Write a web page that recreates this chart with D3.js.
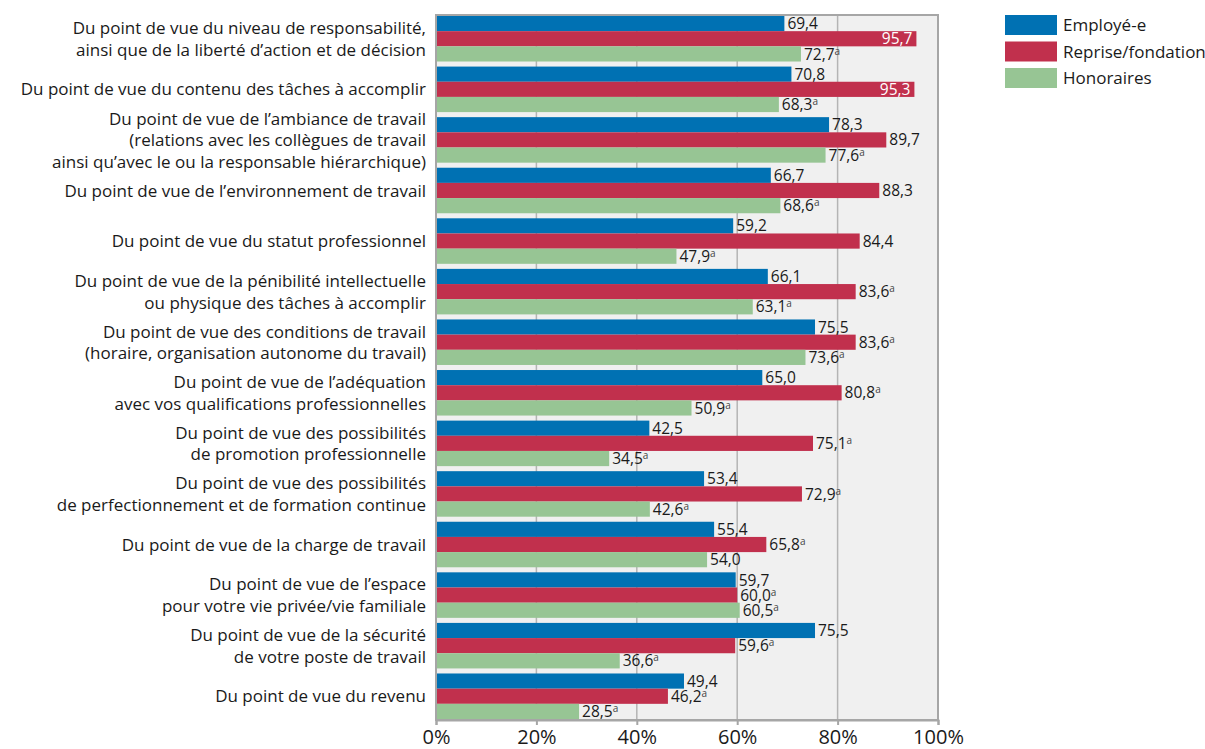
<!DOCTYPE html>
<html>
<head>
<meta charset="utf-8">
<script src="https://cdn.jsdelivr.net/npm/d3@7"></script>
<style>
  body { margin: 0; background: #fff; }
  text { font-family: "Open Sans", sans-serif; fill: #1a1a1a; }
</style>
</head>
<body>
<div id="chart"></div>
<script>
// categories (line breaks as in the original)
var categories = [
  "Du point de vue du niveau de responsabilité,\nainsi que de la liberté d’action et de décision",
  "Du point de vue du contenu des tâches à accomplir",
  "Du point de vue de l’ambiance de travail\n(relations avec les collègues de travail\nainsi qu’avec le ou la responsable hiérarchique)",
  "Du point de vue de l’environnement de travail",
  "Du point de vue du statut professionnel",
  "Du point de vue de la pénibilité intellectuelle\nou physique des tâches à accomplir",
  "Du point de vue des conditions de travail\n(horaire, organisation autonome du travail)",
  "Du point de vue de l’adéquation\navec vos qualifications professionnelles",
  "Du point de vue des possibilités\nde promotion professionnelle",
  "Du point de vue des possibilités\nde perfectionnement et de formation continue",
  "Du point de vue de la charge de travail",
  "Du point de vue de l’espace\npour votre vie privée/vie familiale",
  "Du point de vue de la sécurité\nde votre poste de travail",
  "Du point de vue du revenu"
]
var seriesNames = ["Employé-e", "Reprise/fondation", "Honoraires"]
var colors = ["#0071b3", "#c1304d", "#97c594"]

var employe = [69.4, 70.8, 78.3, 66.7, 59.2, 66.1, 75.5, 65.0, 42.5, 53.4, 55.4, 59.7, 75.5, 49.4]
var reprise = [95.7, 95.3, 89.7, 88.3, 84.4, 83.6, 83.6, 80.8, 75.1, 72.9, 65.8, 60.0, 59.6, 46.2]
var honoraires = [72.7, 68.3, 77.6, 68.6, 47.9, 63.1, 73.6, 50.9, 34.5, 42.6, 54.0, 60.5, 36.6, 28.5]

// superscript "a" markers
var employeA = [0,0,0,0,0,0,0,0,0,0,0,0,0,0]
var repriseA = [0,0,0,0,0,1,1,1,1,1,1,1,1,1]
var honorairesA = [1,1,1,1,1,1,1,1,1,1,0,1,1,1]

var xTicks = [0, 20, 40, 60, 80, 100]

var width = 1205, height = 749
var svg = d3.select("#chart").append("svg")
  .attr("width", width)
  .attr("height", height)

var plot = { left: 436, right: 938, top: 15, bottom: 720 }

var x = d3.scaleLinear().domain([0, 100]).range([plot.left, plot.right])
var y = d3.scaleBand().domain(d3.range(categories.length))
  .range([plot.top + 1, plot.bottom - 1])
  .paddingInner(0.1).paddingOuter(0)
var ySub = d3.scaleBand().domain([0, 1, 2]).range([0, y.bandwidth()])

// background
svg.append("rect")
  .attr("x", plot.left).attr("y", plot.top)
  .attr("width", plot.right - plot.left).attr("height", plot.bottom - plot.top)
  .attr("fill", "#f0f0f0")

// grid
svg.append("g").selectAll("line")
  .data(xTicks.slice(1, -1)).enter().append("line")
  .attr("x1", function(d){ return x(d) }).attr("x2", function(d){ return x(d) })
  .attr("y1", plot.top).attr("y2", plot.bottom)
  .attr("stroke", "#b4b4b4").attr("stroke-width", 1.5)

var rows = categories.map(function(c, i){
  return {
    i: i,
    vals: [
      { s: 0, v: employe[i], a: employeA[i] },
      { s: 1, v: reprise[i], a: repriseA[i] },
      { s: 2, v: honoraires[i], a: honorairesA[i] }
    ]
  }
})

var groups = svg.append("g").selectAll("g")
  .data(rows).enter().append("g")
  .attr("transform", function(d){ return "translate(0," + y(d.i) + ")" })

groups.selectAll("rect")
  .data(function(d){ return d.vals }).enter().append("rect")
  .attr("x", x(0))
  .attr("y", function(d){ return ySub(d.s) })
  .attr("width", function(d){ return x(d.v) - x(0) })
  .attr("height", ySub.bandwidth())
  .attr("fill", function(d){ return colors[d.s] })

// value labels
var fmt = function(v){ return v.toFixed(1).replace(".", ",") }
groups.selectAll("text.val")
  .data(function(d){ return d.vals }).enter().append("text")
  .attr("class", "val")
  .attr("y", function(d){ return ySub(d.s) + ySub.bandwidth() / 2 })
  .attr("dy", "0.36em")
  .style("font-size", "15.5px")
  .each(function(d){
    var inside = d.v > 92
    var t = d3.select(this)
    t.attr("x", inside ? x(d.v) - 4 : x(d.v) + 3)
      .attr("text-anchor", inside ? "end" : "start")
    t.append("tspan").text(fmt(d.v)).style("fill", inside ? "#fff" : "#1a1a1a")
    if (d.a) {
      t.append("tspan").text("a")
        .attr("dy", "-0.5em")
        .style("font-size", "10px")
        .style("fill", "#444")
    }
  })

// border
svg.append("rect")
  .attr("x", plot.left).attr("y", plot.top)
  .attr("width", plot.right - plot.left).attr("height", plot.bottom - plot.top)
  .attr("fill", "none").attr("stroke", "#a6a6a6").attr("stroke-width", 2)

// x axis
var xAxis = d3.axisBottom(x).tickValues(xTicks)
  .tickFormat(function(d){ return d + "%" })
  .tickSize(5).tickPadding(5)
var ax = svg.append("g")
  .attr("transform", "translate(0," + plot.bottom + ")")
  .call(xAxis)
ax.select(".domain").attr("stroke", "#a6a6a6").attr("stroke-width", 2)
ax.selectAll(".tick line").attr("stroke", "#a6a6a6").attr("stroke-width", 2)
ax.selectAll(".tick text")
  .style("font-family", "'Open Sans', sans-serif")
  .style("font-size", "20px").style("fill", "#1a1a1a")

// category labels
var lineH = 21.5
svg.append("g").selectAll("text")
  .data(rows).enter().append("text")
  .attr("text-anchor", "end")
  .style("font-size", "17px")
  .each(function(d){
    var lines = categories[d.i].split("\n")
    var cy = y(d.i) + y.bandwidth() / 2
    var t = d3.select(this)
    lines.forEach(function(l, k){
      t.append("tspan")
        .attr("x", 426)
        .attr("y", cy + (k - (lines.length - 1) / 2) * lineH)
        .attr("dy", "0.36em")
        .text(l)
    })
  })

// legend
var legend = svg.append("g").selectAll("g")
  .data(seriesNames).enter().append("g")
  .attr("transform", function(d, i){ return "translate(1005," + (15 + i * 26.5) + ")" })
legend.append("rect")
  .attr("width", 52).attr("height", 20)
  .attr("fill", function(d, i){ return colors[i] })
legend.append("text")
  .attr("x", 58).attr("y", 10).attr("dy", "0.36em")
  .style("font-size", "17px")
  .text(function(d){ return d })
</script>
</body>
</html>
